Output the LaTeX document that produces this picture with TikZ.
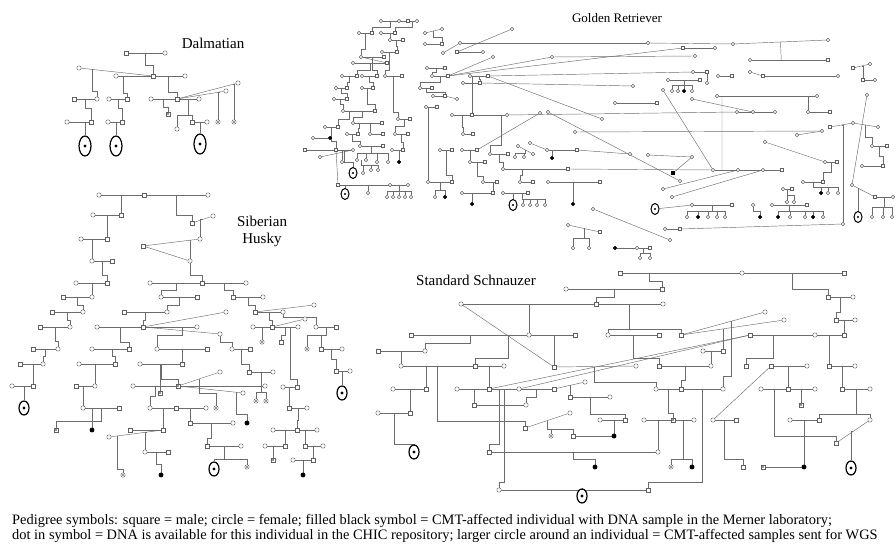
\documentclass[tikz,border=0pt]{standalone}
\usepackage{fontspec}
\setmainfont{Liberation Serif}
\usetikzlibrary{calc,shapes.geometric,backgrounds}
\tikzset{
  ln/.style={draw=gray!85!black, line width=.45pt},
  ml/.style={rectangle, draw=gray!75!black, fill=white, minimum size=4.2pt, inner sep=0pt, line width=.4pt},
  fl/.style={circle, draw=gray!75!black, fill=white, minimum size=4.4pt, inner sep=0pt, line width=.4pt},
  gm/.style={ml, minimum size=3.3pt},
  gf/.style={fl, minimum size=3.5pt},
  aff/.style={fill=black, draw=black},
  dotmark/.style={circle, fill=gray!35!black, inner sep=0pt, minimum size=1.7pt},
  dna/.style={label={[dotmark]center:{}}},
  wgs/.style={ellipse, draw=black, fill=white, line width=1.2pt, minimum width=10pt, minimum height=14pt, inner sep=0pt,
    label={[circle, fill=black, inner sep=0pt, minimum size=3.2pt]center:{}}},
  bigwgs/.style={wgs, minimum width=12pt, minimum height=20pt},
  gwgs/.style={ellipse, draw=black, fill=white, line width=1pt, minimum width=8pt, minimum height=11pt, inner sep=0pt,
    label={[circle, fill=black, inner sep=0pt, minimum size=2.4pt]center:{}}},
  ttl/.style={font=\fontsize{15}{17}\selectfont, align=center, inner sep=0pt},
  legtxt/.style={font=\fontsize{14.4}{15}\selectfont, inner sep=0pt},
}
\begin{document}
\begin{tikzpicture}[x=1pt,y=-1pt]
\useasboundingbox (0,0) rectangle (896,545);

% Dalmatian
\node[ttl] (dt) at (213,43) {Dalmatian};
\node[ml] (d1) at (126,53) {}; \node[fl] (d2) at (165,53) {};
\node[fl] (d3) at (79,68) {}; \node[fl] (d4) at (116,76) {};
\node[ml] (d5) at (153,76) {}; \node[fl] (d6) at (185,76) {};
\node[ml] (d7) at (74,99) {}; \node[fl] (d8) at (97,99) {};
\node[fl] (d9) at (109,99) {}; \node[ml] (d10) at (127,99) {};
\node[fl] (d11) at (151,99) {}; \node[ml] (d12) at (177,99) {};
\node[fl] (d13) at (199,99) {}; \node[fl] (d14) at (226,91) {};
\node[fl] (d15) at (238,83) {};
\node[ml,dna] (d16) at (168,114) {};
\node[fl] (d17) at (177,129) {}; \node[ml] (d18) at (192,122) {};
\node[fl] (d19) at (207,122) {}; \node[fl,dna] (d20) at (218,122) {};
\node[fl,dna] (d21) at (234,122) {};
\node[fl] (d22) at (67,122) {}; \node[ml] (d23) at (91,122) {};
\node[fl] (d24) at (108,122) {}; \node[ml] (d25) at (122,122) {};
\node[bigwgs] (d26) at (85,146) {};
\node[bigwgs] (d27) at (116,146) {};
\node[bigwgs] (d28) at (200,144) {};
\begin{pgfonlayer}{background}
\draw[ln] (d1) -- (d2);
\draw[ln] (d3) -- (d5); \draw[ln] (d4) -- (d6);
\draw[ln] ($(d1)!.5!(d2)$) -- ++(0,12) -| (d5);
\draw[ln] (d7) -- (d8); \draw[ln] ($(d3)!.18!(d5)$) -- ++(0,22) -| (d8);
\draw[ln] (d9) -- (d10); \draw[ln] ($(d4)!.19!(d5)$) -- ++(0,17) -| (d10);
\draw[ln] (d11) -- (d13); \draw[ln] (d12) -- (d14); \draw[ln] (d12) -- (d15);
\draw[ln] ($(d5)!.47!(d6)$) -- ++(0,16) -| (d12);
\draw[ln] ($(d11)!.46!(d12)$) -- ++(0,8) -| (d16);
\draw[ln] (d18) -- (d19);
\draw[ln] ($(d12)!.5!(d13)$) -- ++(0,16) -| (d17);
\draw[ln] ($(d12)!.5!(d13)$) -- ++(0,16) -| (d18);
\draw[ln] ($(d12)!.88!(d14)$) -| (d20);
\draw[ln] ($(d12)!.92!(d15)$) -| (d21);
\draw[ln] (d22) -- (d23); \draw[ln] ($(d7)!.5!(d8)$) -- ++(0,9) -| (d23);
\draw[ln] (d24) -- (d25); \draw[ln] ($(d9)!.5!(d10)$) -- ++(0,9) -| (d25);
\draw[ln] ($(d22)!.5!(d23)$) -| (d26);
\draw[ln] ($(d24)!.5!(d25)$) -| (d27);
\draw[ln] ($(d18)!.5!(d19)$) -| (d28);
\end{pgfonlayer}

% Siberian Husky
\node[ttl] (ht) at (262,231) {Siberian\\Husky};
\node[fl] (h1) at (99,195) {}; \node[ml] (h2) at (144,195) {}; \node[fl] (h3) at (208,195) {};
\node[fl] (h4) at (93,215) {}; \node[ml] (h5) at (121,215) {};
\node[ml] (h6) at (192,223) {}; \node[fl] (h7) at (213,216) {};
\node[fl] (h8) at (81,239) {}; \node[ml] (h9) at (107,239) {};
\node[ml] (h10) at (143,246) {}; \node[fl] (h11) at (200,239) {}; \node[fl] (h12) at (190,261) {};
\node[fl] (h13) at (92,261) {}; \node[ml] (h14) at (112,261) {};
\node[fl] (h15) at (76,283) {}; \node[ml] (h16) at (107,283) {};
\node[fl] (h17) at (150,283) {}; \node[ml] (h18) at (202,283) {}; \node[fl] (h19) at (246,283) {};
\node[fl] (h20) at (161,297) {}; \node[ml] (h21) at (197,297) {};
\node[ml] (h22) at (233,297) {}; \node[fl] (h23) at (263,297) {};
\node[ml] (h24) at (63,297) {}; \node[fl] (h25) at (92,297) {};
\node[ml] (h26) at (52,312) {}; \node[fl] (h27) at (83,312) {};
\node[ml] (h28) at (124,312) {}; \node[fl] (h29) at (167,312) {};
\node[ml] (h30) at (255,312) {}; \node[fl] (h31) at (283,312) {}; \node[fl] (h32) at (314,305) {};
\node[ml] (h33) at (40,327) {}; \node[fl] (h34) at (70,327) {};
\node[fl] (h35) at (97,327) {}; \node[ml] (h36) at (143,327) {}; \node[fl] (h37) at (197,327) {};
\node[fl] (h38) at (226,312) {}; \node[fl] (h39) at (220,334) {};
\node[fl] (h40) at (253,327) {}; \node[ml] (h41) at (272,327) {}; \node[fl] (h42) at (298,327) {};
\node[fl] (h43) at (305,319) {};
\node[fl] (h44) at (316,327) {}; \node[ml] (h45) at (336,327) {};
\node[fl,dna] (h46) at (307,349) {}; \node[ml] (h47) at (321,349) {}; \node[fl] (h48) at (342,349) {};
\node[ml] (h49) at (336,371) {}; \node[fl] (h50) at (350,371) {};
\node[wgs] (h51) at (342,393) {};
\node[fl,dna] (h52) at (262,342) {}; \node[ml] (h53) at (281,342) {};
\node[fl] (h54) at (283,387) {}; \node[ml] (h55) at (297,387) {};
\node[ml] (h56) at (289,408) {}; \node[fl] (h57) at (307,408) {};
\node[fl] (h58) at (273,430) {}; \node[ml] (h59) at (297,430) {}; \node[fl] (h60) at (317,430) {};
\node[fl] (h61) at (265,446) {}; \node[ml] (h62) at (285,446) {};
\node[ml] (h63) at (305,446) {}; \node[fl] (h64) at (323,446) {};
\node[ml,dna] (h65) at (273,460) {}; \node[fl] (h66) at (293,460) {}; \node[ml] (h67) at (313,460) {};
\node[fl,aff] (h68) at (303,475) {};
\node[fl] (h69) at (133,386) {}; \node[ml,dna] (h70) at (178,386) {}; \node[fl] (h71) at (265,386) {};
\node[fl] (h72) at (220,372) {}; \node[fl] (h73) at (243,393) {};
\node[fl] (h74) at (140,364) {}; \node[ml] (h75) at (182,364) {};
\node[ml,dna] (h76) at (160,393) {};
\node[fl] (h77) at (157,349) {}; \node[ml] (h78) at (207,349) {};
\node[fl] (h79) at (232,349) {}; \node[ml] (h80) at (250,349) {};
\node[ml] (h81) at (249,372) {}; \node[fl] (h82) at (273,372) {};
\node[fl,dna] (h83) at (256,401) {}; \node[fl,dna] (h84) at (266,401) {};
\node[fl,aff] (h85) at (247,423) {};
\node[fl] (h86) at (150,408) {}; \node[ml] (h87) at (176,408) {};
\node[fl] (h88) at (206,408) {}; \node[fl,dna] (h89) at (216,408) {};
\node[ml] (h90) at (190,423) {}; \node[fl] (h91) at (233,423) {};
\node[fl] (h92) at (109,437) {}; \node[ml] (h93) at (130,430) {}; \node[ml] (h94) at (163,430) {};
\node[fl] (h95) at (145,452) {}; \node[ml] (h96) at (168,452) {};
\node[ml] (h97) at (207,446) {}; \node[fl] (h98) at (241,446) {};
\node[wgs] (h99) at (214,469) {}; \node[fl,dna] (h100) at (247,467) {};
\node[fl,dna] (h101) at (123,475) {}; \node[fl,aff] (h102) at (161,475) {};
\node[ml] (h103) at (33,349) {}; \node[fl] (h104) at (58,349) {};
\node[ml] (h105) at (20,364) {}; \node[fl] (h106) at (43,364) {};
\node[fl] (h107) at (12,386) {}; \node[ml] (h108) at (33,386) {};
\node[wgs] (h109) at (24,408) {};
\node[fl] (h110) at (79,364) {}; \node[ml] (h111) at (115,364) {};
\node[fl] (h112) at (92,349) {}; \node[ml] (h113) at (129,349) {};
\node[ml] (h114) at (76,386) {}; \node[fl] (h115) at (95,386) {};
\node[fl] (h116) at (83,408) {}; \node[ml] (h117) at (119,408) {};
\node[ml,dna] (h118) at (56,430) {}; \node[fl,aff] (h119) at (92,430) {};
\begin{pgfonlayer}{background}
\draw[ln] (h1) -- (h3); \draw[ln] ($(h1)!.5!(h2)$) -| (h5); \draw[ln] (h4) -- (h5);
\draw[ln] ($(h2)!.5!(h3)$) -- ++(0,20) -| (h6); \draw[ln] (h6) -- (h7);
\draw[ln] (h8) -- (h9); \draw[ln] ($(h4)!.5!(h5)$) -| (h9);
\draw[ln] (h10) -- (h11); \draw[ln] (h10) -- (h12);
\draw[ln] ($(h6)!.5!(h7)$) -| (h11); \draw[ln] ($(h10)!.83!(h11)$) -| (h12);
\draw[ln] (h13) -- (h14); \draw[ln] ($(h8)!.5!(h9)$) -| (h13);
\draw[ln] (h15) -- (h16); \draw[ln] ($(h13)!.5!(h14)$) -- ++(0,14) -| (h16);
\draw[ln] (h17) -- (h19); \draw[ln] (h12) -- ++(0,14) -| (h18);
\draw[ln] (h20) -- (h21); \draw[ln] ($(h17)!.5!(h18)$) -- ++(0,7) -| (h20);
\draw[ln] (h22) -- (h23); \draw[ln] ($(h18)!.5!(h19)$) -- ++(0,7) -| (h22);
\draw[ln] (h24) -- (h25); \draw[ln] ($(h15)!.5!(h16)$) -| (h25);
\draw[ln] (h26) -- (h27); \draw[ln] ($(h24)!.5!(h25)$) -- ++(0,8) -| (h27);
\draw[ln] (h28) -- (h29); \draw[ln] ($(h20)!.5!(h21)$) -- ++(0,8) -| (h29);
\draw[ln] (h30) -- (h31); \draw[ln] (h30) -- (h32); \draw[ln] ($(h22)!.5!(h23)$) -- ++(0,8) -| (h30);
\draw[ln] (h33) -- (h34); \draw[ln] ($(h26)!.5!(h27)$) -- ++(0,8) -| (h34);
\draw[ln] (h35) -- (h37); \draw[ln] (h36) -- (h38); \draw[ln] (h36) -- (h39);
\draw[ln] ($(h28)!.5!(h29)$) -- ++(0,8) -| (h36);
\draw[ln] (h40) -- (h42); \draw[ln] (h41) -- (h43);
\draw[ln] ($(h30)!.5!(h31)$) -- ++(0,8) -| (h41);
\draw[ln] (h44) -- (h45); \draw[ln] (h31) -- ++(0,5) -| (h44);
\draw[ln] (h47) -- (h48);
\draw[ln] ($(h44)!.5!(h45)$) -- ++(0,8) -| (h46); \draw[ln] ($(h44)!.5!(h45)$) -- ++(0,8) -| (h47);
\draw[ln] (h49) -- (h50); \draw[ln] ($(h47)!.5!(h48)$) -- ++(0,10) -| (h49);
\draw[ln] ($(h49)!.5!(h50)$) -| (h51);
\draw[ln] ($(h40)!.5!(h41)$) -| (h52);
\draw[ln] ($(h41)!.5!(h42)$) -- ++(0,8) -| (h53);
\draw[ln] (h54) -- (h55); \draw[ln] ($(h41)!.7!(h42)$) -- ++(0,52) -| (h55);
\draw[ln] (h56) -- (h57); \draw[ln] ($(h54)!.5!(h55)$) -| (h56);
\draw[ln] (h58) -- (h60); \draw[ln] ($(h56)!.5!(h57)$) -- ++(0,12) -| (h59);
\draw[ln] (h61) -- (h62); \draw[ln] ($(h58)!.5!(h59)$) -| (h62);
\draw[ln] (h63) -- (h64); \draw[ln] ($(h59)!.5!(h60)$) -| (h63);
\draw[ln] ($(h61)!.5!(h62)$) -| (h65);
\draw[ln] (h66) -- (h67); \draw[ln] ($(h63)!.5!(h64)$) -| (h67);
\draw[ln] ($(h66)!.5!(h67)$) -| (h68);
\draw[ln] (h69) -- (h71); \draw[ln] (h70) -- (h72); \draw[ln] (h70) -- (h73);
\draw[ln] (h74) -- (h75); \draw[ln] ($(h74)!.5!(h75)$) -| (h76);
\draw[ln] ($(h74)!.5!(h75)$) -- ++(0,15) -| (h70);
\draw[ln] (h77) -- (h78); \draw[ln] ($(h35)!.85!(h37)$) -- ++(0,8) -| (h77);
\draw[ln] ($(h77)!.5!(h78)$) -| (h75);
\draw[ln] (h79) -- (h80); \draw[ln] (h39) -- ++(0,8) -| (h79);
\draw[ln] (h81) -- (h82); \draw[ln] ($(h79)!.5!(h80)$) -- ++(0,15) -| (h81);
\draw[ln] ($(h81)!.5!(h82)$) -- ++(0,20) -| (h83); \draw[ln] ($(h81)!.5!(h82)$) -- ++(0,20) -| (h84);
\draw[ln] ($(h70)!.9!(h73)$) -- ++(0,22) -| (h85);
\draw[ln] (h86) -- (h88); \draw[ln] ($(h69)!.5!(h70)$) -- ++(0,10) -| (h86);
\draw[ln] ($(h70)!.5!(h72)$) -- ++(0,14) -| (h89);
\draw[ln] (h90) -- (h91); \draw[ln] ($(h87)!.5!(h88)$) -| (h90);
\draw[ln] (h93) -- (h94); \draw[ln] (h92) -- (h94); \draw[ln] ($(h86)!.5!(h87)$) -| (h94);
\draw[ln] (h95) -- (h96); \draw[ln] ($(h92)!.7!(h94)$) -| (h95);
\draw[ln] (h97) -- (h98); \draw[ln] ($(h90)!.5!(h91)$) -- ++(0,15) -| (h97);
\draw[ln] ($(h97)!.5!(h98)$) -- ++(0,13) -| (h99); \draw[ln] ($(h97)!.5!(h98)$) -- ++(0,13) -| (h100);
\draw[ln] ($(h92)!.15!(h94)$) -- ++(0,33) -| (h101);
\draw[ln] ($(h95)!.5!(h96)$) -- ++(0,12) -| (h102);
\draw[ln] (h103) -- (h104); \draw[ln] ($(h33)!.5!(h34)$) -- ++(0,14) -| (h104);
\draw[ln] (h105) -- (h106); \draw[ln] ($(h103)!.5!(h104)$) -- ++(0,7) -| (h106);
\draw[ln] (h107) -- (h108); \draw[ln] ($(h105)!.5!(h106)$) -| (h108);
\draw[ln] ($(h107)!.5!(h108)$) -| (h109);
\draw[ln] (h110) -- (h111); \draw[ln] (h112) -- (h113);
\draw[ln] ($(h35)!.23!(h37)$) -- ++(0,15) -| (h113);
\draw[ln] ($(h112)!.55!(h113)$) -- ++(0,7) -| (h111);
\draw[ln] (h114) -- (h115); \draw[ln] ($(h110)!.5!(h111)$) -| (h115);
\draw[ln] (h116) -- (h117); \draw[ln] ($(h114)!.5!(h115)$) -| (h116);
\draw[ln] ($(h116)!.5!(h117)$) -| (h119);
\draw[ln] ($(h116)!.5!(h117)$) -- ++(0,13) -| (h118);
\end{pgfonlayer}

% Standard Schnauzer
\node[ttl] (st) at (476,280) {Standard Schnauzer};
\node[ml] (s1) at (620,273) {}; \node[fl] (s2) at (742,273) {}; \node[ml] (s3) at (844,273) {};
\node[fl] (s4) at (566,289) {}; \node[ml] (s5) at (662,289) {};
\node[ml] (s6) at (828,297) {}; \node[fl] (s7) at (853,297) {};
\node[fl] (s8) at (461,304) {}; \node[ml] (s9) at (596,304) {}; \node[fl] (s10) at (663,304) {};
\node[ml] (s11) at (836,320) {}; \node[fl] (s12) at (855,320) {};
\node[ml] (s13) at (411,335) {}; \node[fl] (s14) at (529,335) {}; \node[ml] (s15) at (575,335) {};
\node[fl] (s16) at (608,335) {}; \node[ml] (s17) at (659,335) {};
\node[ml] (s18) at (681,335) {}; \node[fl] (s19) at (765,312) {}; \node[fl] (s20) at (784,320) {};
\node[ml] (s21) at (750,335) {}; \node[fl] (s22) at (815,335) {}; \node[ml] (s23) at (844,335) {};
\node[ml] (s24) at (378,351) {}; \node[fl] (s25) at (425,351) {};
\node[ml] (s26) at (554,367) {};
\node[fl] (s27) at (401,366) {}; \node[ml] (s28) at (475,366) {}; \node[fl] (s29) at (504,366) {};
\node[fl] (s30) at (636,366) {};
\node[ml] (s31) at (659,366) {}; \node[fl] (s32) at (711,366) {};
\node[fl] (s33) at (703,351) {}; \node[ml] (s34) at (723,351) {};
\node[ml] (s35) at (746,366) {}; \node[ml] (s36) at (771,366) {}; \node[fl] (s37) at (807,366) {};
\node[ml] (s38) at (829,366) {}; \node[fl] (s39) at (855,366) {};
\node[fl] (s40) at (393,389) {}; \node[ml] (s41) at (426,389) {};
\node[fl] (s42) at (457,389) {}; \node[ml] (s43) at (489,389) {};
\node[fl] (s44) at (519,389) {}; \node[ml] (s45) at (554,389) {};
\node[fl] (s46) at (585,382) {}; \node[ml] (s47) at (570,397) {}; \node[fl] (s48) at (610,397) {};
\node[fl] (s49) at (656,389) {}; \node[ml] (s50) at (681,389) {}; \node[fl] (s51) at (723,389) {};
\node[fl] (s53) at (761,389) {}; \node[ml] (s54) at (788,389) {}; \node[fl] (s55) at (815,389) {};
\node[ml] (s56) at (842,389) {}; \node[fl] (s57) at (870,389) {};
\node[ml,dna] (s58) at (801,405) {};
\node[ml] (s59) at (474,405) {}; \node[fl] (s60) at (526,405) {};
\node[fl] (s61) at (378,413) {}; \node[ml] (s62) at (410,413) {};
\node[ml] (s63) at (525,428) {}; \node[fl] (s64) at (570,413) {};
\node[fl] (s65) at (600,420) {}; \node[ml] (s66) at (625,420) {};
\node[fl] (s67) at (644,420) {}; \node[ml,dna] (s68) at (673,420) {}; \node[fl] (s69) at (694,420) {};
\node[fl] (s70) at (713,420) {}; \node[ml] (s71) at (736,420) {};
\node[fl] (s72) at (790,420) {}; \node[ml] (s73) at (819,420) {};
\node[fl] (s74) at (870,420) {}; \node[ml] (s75) at (836,443) {};
\node[fl,dna] (s76) at (551,436) {}; \node[ml] (s77) at (573,436) {}; \node[fl,aff] (s78) at (614,436) {};
\node[wgs] (s79) at (414,452) {};
\node[ml] (s80) at (489,452) {}; \node[fl] (s81) at (658,452) {};
\node[fl,aff] (s82) at (595,467) {};
\node[fl,dna] (s83) at (671,467) {}; \node[fl,aff] (s84) at (692,467) {};
\node[ml] (s85) at (743,467) {}; \node[ml,dna] (s86) at (763,467) {}; \node[fl,aff] (s87) at (804,467) {};
\node[wgs] (s88) at (851,468) {};
\node[fl] (s89) at (499,490) {}; \node[ml] (s90) at (648,490) {};
\node[wgs] (s91) at (582,496) {};
\begin{pgfonlayer}{background}
\draw[ln] (s1) -- (s3);
\draw[ln] (s4) -- (s5); \draw[ln] ($(s1)!.13!(s3)$) -- ++(0,8) -| (s5);
\draw[ln] (s6) -- (s7); \draw[ln] ($(s1)!.77!(s3)$) -- ++(0,16) -| (s6);
\draw[ln] (s8) -- (s10); \draw[ln] ($(s4)!.5!(s5)$) -- ++(0,8) -| (s9);
\draw[ln] (s11) -- (s12); \draw[ln] ($(s6)!.5!(s7)$) -- ++(0,15) -| (s11);
\draw[ln] (s13) -- (s15); \draw[ln] ($(s8)!.5!(s9)$) -| (s14);
\draw[ln] (s16) -- (s17); \draw[ln] (s18) -- (s19); \draw[ln] (s18) -- (s20);
\draw[ln] ($(s9)!.5!(s10)$) -- ++(0,25) -| (s16); \draw[ln] ($(s9)!.5!(s10)$) -- ++(0,25) -| (s18);
\draw[ln] (s21) -- (s23); \draw[ln] ($(s11)!.5!(s12)$) -| (s23);
\draw[ln] (s24) -- (s25); \draw[ln] ($(s13)!.5!(s14)$) -- ++(0,8) -| (s25);
\draw[ln] (s8) -- (s26);
\draw[ln] (s27) -- (s29); \draw[ln] ($(s24)!.5!(s25)$) -| (s27);
\draw[ln] ($(s13)!.59!(s15)$) -- ++(0,23) -| (s28);
\draw[ln] (s26) -- (s30); \draw[ln] ($(s14)!.5!(s15)$) -| (s26);
\draw[ln] (s31) -- (s32); \draw[ln] ($(s16)!.5!(s17)$) -- ++(0,23) -| (s31);
\draw[ln] (s33) -- (s34); \draw[ln] ($(s18)!.41!(s20)$) -| (s34);
\draw[ln] ($(s33)!.5!(s34)$) -| (s32);
\draw[ln] ($(s21)!.35!(s22)$) -- ++(0,23) -| (s35);
\draw[ln] (s36) -- (s37);
\draw[ln] (s38) -- (s39); \draw[ln] ($(s22)!.5!(s23)$) -| (s38);
\draw[ln] (s40) -- (s41); \draw[ln] ($(s27)!.34!(s28)$) -| (s41);
\draw[ln] (s42) -- (s45); \draw[ln] ($(s28)!.5!(s29)$) -| (s43);
\draw[ln] (s45) -- (s46); \draw[ln] ($(s45)!.5!(s46)$) -| (s47);
\draw[ln] (s43) -- (s21); \draw[ln] (s44) -- (s21);
\draw[ln] (s47) -- (s48);
\draw[ln] (s49) -- (s51); \draw[ln] ($(s26)!.49!(s30)$) -- ++(0,16) -| (s49);
\draw[ln] ($(s31)!.5!(s32)$) -- ++(0,14) -| (s50);
\draw[ln] ($(s18)!.6!(s19)$) -- ++(0,55) -| (s51);
\draw[ln] (s53) -- (s55); \draw[ln] ($(s36)!.5!(s37)$) -| (s54);
\draw[ln] (s56) -- (s57); \draw[ln] ($(s38)!.5!(s39)$) -| (s56);
\draw[ln] ($(s54)!.5!(s55)$) -| (s58);
\draw[ln] (s59) -- (s60); \draw[ln] ($(s42)!.5!(s43)$) -| (s59);
\draw[ln] ($(s44)!.5!(s45)$) -- ++(0,8) -| (s60);
\draw[ln] (s61) -- (s62); \draw[ln] ($(s40)!.5!(s41)$) -| (s62);
\draw[ln] (s63) -- (s64); \draw[ln] ($(s27)!.49!(s28)$) -- ++(0,55) -| (s63);
\draw[ln] (s65) -- (s66); \draw[ln] ($(s47)!.5!(s48)$) -- ++(0,17) -| (s66);
\draw[ln] (s67) -- (s69); \draw[ln] ($(s49)!.5!(s50)$) -- ++(0,24) -| (s68);
\draw[ln] (s70) -- (s71); \draw[ln] (s70) -- (s36);
\draw[ln] (s72) -- (s73); \draw[ln] (s74) -- (s75);
\draw[ln] ($(s56)!.5!(s57)$) -- ++(0,25) -| (s73); \draw[ln] ($(s56)!.5!(s57)$) -- ++(0,25) -| (s74);
\draw[ln] (s77) -- (s78);
\draw[ln] ($(s63)!.5!(s64)$) -- ++(0,9) -| (s76); \draw[ln] ($(s63)!.5!(s64)$) -- ++(0,9) -| (s77);
\draw[ln] ($(s65)!.5!(s66)$) -| (s78);
\draw[ln] ($(s61)!.5!(s62)$) -- ++(0,31) -| (s79);
\draw[ln] (s80) -- (s81); \draw[ln] ($(s43)!.35!(s44)$) -- ++(0,55) -| (s80);
\draw[ln] ($(s67)!.5!(s68)$) -| (s81);
\draw[ln] ($(s80)!.5!(s81)$) -- ++(0,7) -| (s82);
\draw[ln] ($(s68)!.5!(s69)$) -- ++(0,39) -| (s83); \draw[ln] ($(s68)!.5!(s69)$) -- ++(0,39) -| (s84);
\draw[ln] (s86) -- (s87); \draw[ln] ($(s70)!.5!(s71)$) -- ++(0,39) -| (s85);
\draw[ln] ($(s53)!.5!(s54)$) -- ++(0,47) -| (s75);
\draw[ln] ($(s72)!.5!(s73)$) -| (s87);
\draw[ln] ($(s74)!.5!(s75)$) -| (s88);
\draw[ln] (s89) -- (s90); \draw[ln] ($(s43)!.5!(s44)$) -- ++(0,93) -| (s89);
\draw[ln] ($(s50)!.5!(s51)$) -- ++(0,93) -| (s90);
\draw[ln] ($(s89)!.56!(s90)$) -| (s91);
\end{pgfonlayer}

% Golden Retriever
\node[ttl,font=\fontsize{13}{15}\selectfont] (gt) at (617,18) {Golden Retriever};
\node[gf] (g1) at (381,21) {}; \node[gf] (g2) at (399,21) {}; \node[gm] (g3) at (408,21) {}; \node[gf] (g4) at (417,21) {};
\node[gf] (g5) at (359,33) {}; \node[gm] (g6) at (372,33) {};
\node[gf] (g7) at (381,33) {}; \node[gm] (g8) at (395,33) {};
\node[gf] (g9) at (425,33) {}; \node[gf] (g10) at (442,29) {};
\node[gf] (g11) at (390,40) {}; \node[gm] (g12) at (403,40) {};
\node[gf] (g13) at (382,52) {}; \node[gm] (g14) at (397,52) {};
\node[gf] (g15) at (425,44) {}; \node[gm] (g16) at (442,44) {};
\node[gf] (g17) at (443,53) {}; \node[gf] (g18) at (460,43) {};
\node[gm] (g19) at (457,52) {}; \node[gf] (g20) at (483,52) {}; \node[gf] (g21) at (512,29) {};
\node[gf] (g22) at (361,57) {}; \node[gm] (g23) at (384,57) {};
\node[gf] (g24) at (353,63) {}; \node[gm] (g25) at (387,63) {};
\node[gf] (g26) at (342,76) {}; \node[gm] (g27) at (357,76) {};
\node[gf] (g28) at (362,76) {}; \node[gm] (g29) at (377,76) {};
\node[gf] (g30) at (385,76) {}; \node[gm] (g31) at (402,76) {};
\node[gf] (g32) at (336,88) {}; \node[gm] (g33) at (347,88) {};
\node[gf] (g34) at (362,88) {}; \node[gm] (g35) at (373,88) {};
\node[gf] (g36) at (334,99) {}; \node[gm] (g37) at (347,99) {};
\node[gf] (g38) at (343,111) {}; \node[gm] (g39) at (375,111) {};
\node[gf] (g40) at (398,119) {}; \node[gm] (g41) at (410,119) {};
\node[gf] (g42) at (325,127) {}; \node[gm] (g43) at (338,127) {};
\node[gf] (g44) at (353,123) {}; \node[gm] (g45) at (382,123) {};
\node[gf] (g46) at (347,134) {}; \node[gm] (g47) at (358,134) {};
\node[gf] (g48) at (370,134) {}; \node[gm] (g49) at (383,134) {};
\node[gf] (g50) at (395,134) {}; \node[gm] (g51) at (408,134) {};
\node[gf] (g52) at (313,138) {}; \node[gf,aff] (g53) at (330,138) {};
\node[gm] (g54) at (305,150) {}; \node[gm] (g57) at (336,150) {}; \node[gf] (g55) at (353,150) {};
\node[gf] (g56) at (320,157) {};
\node[gf] (g58) at (360,146) {}; \node[gm] (g59) at (383,146) {};
\node[gf] (g60) at (392,150) {}; \node[gm] (g61) at (403,150) {};
\node[gf] (g62) at (342,162) {}; \node[gf] (g63) at (357,160) {}; \node[gf] (g64) at (366,160) {};
\node[gf] (g65) at (377,162) {}; \node[gf] (g66) at (388,162) {}; \node[gf,aff] (g67) at (399,162) {};
\node[gwgs] (g68) at (353,173) {};
\node[gf] (g69) at (363,173) {}; \node[gf] (g70) at (371,170) {}; \node[gf] (g71) at (378,170) {};
\node[gm] (g72) at (338,185) {}; \node[gf] (g73) at (390,185) {}; \node[gf] (g74) at (408,185) {};
\node[gwgs] (g75) at (345,194) {};
\node[gf] (g76) at (368,193) {};
\node[gf] (g77) at (387,197) {}; \node[gf] (g78) at (393,197) {}; \node[gf] (g79) at (399,197) {};
\node[gf] (g80) at (405,197) {}; \node[gf] (g81) at (411,197) {};
\node[gf] (g82) at (427,68) {}; \node[gm] (g83) at (445,68) {};
\node[gf] (g84) at (432,76) {}; \node[gm] (g85) at (448,76) {};
\node[gf] (g86) at (493,57) {}; \node[gf] (g87) at (552,57) {};
\node[gf] (g88) at (470,76) {}; \node[gm] (g89) at (488,76) {};
\node[gf] (g90) at (463,83) {}; \node[gm] (g91) at (480,83) {};
\node[gf] (g92) at (420,88) {}; \node[gm] (g93) at (432,88) {};
\node[gf] (g94) at (433,96) {}; \node[gm] (g95) at (445,96) {}; \node[gf] (g96) at (457,99) {};
\node[gf] (g97) at (426,107) {}; \node[gm] (g98) at (437,107) {};
\node[gf] (g99) at (452,115) {}; \node[gm] (g100) at (472,115) {}; \node[gf] (g101) at (507,115) {};
\node[gf] (g102) at (463,134) {}; \node[gm] (g103) at (473,134) {};
\node[gf] (g104) at (440,150) {}; \node[gm] (g105) at (452,150) {};
\node[gf] (g106) at (462,150) {}; \node[gm] (g107) at (477,150) {}; \node[gf] (g108) at (540,113) {};
\node[gf] (g109) at (470,162) {}; \node[gm] (g110) at (485,162) {};
\node[gf] (g111) at (490,154) {}; \node[gm] (g112) at (508,154) {};
\node[gf] (g113) at (428,182) {}; \node[gm] (g114) at (452,182) {};
\node[gf] (g115) at (435,197) {}; \node[gf,aff] (g116) at (445,197) {};
\node[gf] (g117) at (462,193) {}; \node[gm] (g118) at (493,193) {}; \node[gf,aff] (g119) at (472,204) {};
\node[gf] (g120) at (483,182) {}; \node[gm] (g121) at (497,182) {};
\node[gf] (g122) at (503,193) {}; \node[gm] (g123) at (528,193) {};
\node[gwgs] (g124) at (513,205) {};
\node[gf] (g125) at (523,205) {}; \node[gf] (g126) at (530,205) {}; \node[gf] (g127) at (537,205) {}; \node[gf] (g128) at (545,205) {};
\node[gf,aff] (g129) at (573,204) {};
\node[gf] (g130) at (503,169) {}; \node[gm] (g131) at (568,169) {};
\node[gf] (g132) at (520,182) {}; \node[gm] (g133) at (533,182) {};
\node[gf] (g134) at (548,182) {}; \node[gm] (g135) at (600,182) {};
\node[gf] (g136) at (518,146) {}; \node[gf] (g137) at (533,154) {};
\node[gf] (g138) at (530,143) {}; \node[gf] (g139) at (547,150) {}; \node[gm] (g141) at (577,150) {};
\node[gf,aff] (g142) at (552,158) {};
\node[gf] (g143) at (515,157) {}; \node[gf] (g144) at (524,157) {};
\node[gf] (g145) at (568,225) {}; \node[gm] (g146) at (600,232) {};
\node[gf] (g147) at (573,248) {}; \node[gf] (g148) at (589,248) {};
\node[gf] (g150) at (648,43) {}; \node[gf] (g151) at (733,44) {}; \node[gf] (g152) at (828,40) {};
\node[gm] (g153) at (683,48) {}; \node[gf] (g154) at (715,48) {};
\node[gf] (g155) at (750,60) {}; \node[gm] (g156) at (828,60) {};
\node[gm] (g157) at (853,68) {}; \node[gf] (g158) at (870,64) {};
\node[gm] (g159) at (863,80) {}; \node[gf] (g160) at (875,80) {};
\node[gf] (g161) at (695,56) {};
\node[gf] (g164) at (668,80) {}; \node[gm] (g165) at (700,80) {};
\node[gf] (g166) at (672,91) {}; \node[gf] (g167) at (678,91) {}; \node[gf,aff] (g168) at (684,91) {}; \node[gf] (g169) at (692,91) {};
\node[gf] (g170) at (693,72) {}; \node[gm] (g171) at (707,72) {}; \node[gf] (g172) at (707,83) {};
\node[gf] (g173) at (718,76) {}; \node[gm] (g174) at (732,76) {};
\node[gf] (g175) at (750,72) {}; \node[gm] (g176) at (763,76) {}; \node[gf] (g177) at (838,76) {};
\node[gf] (g178) at (717,96) {}; \node[gf] (g179) at (817,96) {};
\node[gf] (g180) at (692,99) {}; \node[gf] (g181) at (753,112) {};
\node[gf] (g182) at (737,112) {}; \node[gf] (g183) at (775,112) {};
\node[gf] (g184) at (797,135) {}; \node[gf] (g185) at (822,131) {};
\node[gf] (g186) at (808,112) {}; \node[gm] (g187) at (830,112) {};
\node[gm] (g188) at (830,127) {}; \node[gf] (g189) at (853,123) {}; \node[gf] (g190) at (878,127) {};
\node[gf] (g191) at (872,146) {}; \node[gm] (g192) at (887,146) {};
\node[gf] (g193) at (862,166) {}; \node[gm] (g194) at (883,166) {};
\node[gf] (g195) at (852,185) {}; \node[gm] (g196) at (875,197) {}; \node[gf] (g197) at (893,197) {};
\node[gf] (g198) at (867,95) {};
\node[gwgs] (g199) at (858,217) {};
\node[gf] (g200) at (872,217) {}; \node[gf] (g201) at (883,217) {}; \node[gf] (g202) at (892,217) {};
\node[gf] (g203) at (765,142) {}; \node[gf] (g204) at (825,162) {}; \node[gm] (g205) at (837,162) {};
\node[gf] (g206) at (803,182) {}; \node[gm] (g207) at (823,182) {};
\node[gf,aff] (g208) at (821,193) {}; \node[gf] (g209) at (828,193) {}; \node[gf] (g210) at (838,193) {};
\node[gf] (g211) at (783,189) {}; \node[gm] (g212) at (792,189) {};
\node[gf] (g213) at (787,202) {}; \node[gf] (g214) at (794,202) {};
\node[gf] (g215) at (772,205) {}; \node[gm] (g216) at (807,205) {};
\node[gf,aff] (g217) at (778,217) {}; \node[gf] (g218) at (790,217) {}; \node[gf] (g219) at (805,217) {};
\node[gf,aff] (g220) at (813,217) {}; \node[gf] (g221) at (823,217) {};
\node[gf] (g222) at (753,205) {}; \node[gf,aff] (g223) at (760,217) {};
\node[gf] (g224) at (692,205) {}; \node[gm] (g225) at (732,205) {};
\node[gf] (g226) at (687,217) {}; \node[gf,aff] (g227) at (698,217) {}; \node[gf] (g228) at (708,217) {};
\node[gf] (g229) at (717,217) {}; \node[gf] (g230) at (725,217) {};
\node[gwgs] (g231) at (655,209) {};
\node[gf] (g232) at (692,157) {}; \node[gm,aff] (g233) at (673,173) {};
\node[gf] (g234) at (672,197) {}; \node[gf] (g235) at (763,170) {};
\node[gf] (g236) at (663,189) {}; \node[gf] (g237) at (738,170) {};
\node[gf] (g238) at (713,170) {}; \node[gm] (g239) at (782,170) {};
\node[gf] (g241) at (663,90) {};
\node[gf] (g242) at (593,209) {}; \node[gf] (g243) at (670,240) {};
\node[gf] (g244) at (665,229) {}; \node[gm] (g245) at (680,229) {}; \node[gf] (g246) at (843,224) {};
\node[gf] (g247) at (637,248) {}; \node[gm] (g248) at (650,248) {};
\node[gf] (g249) at (640,258) {}; \node[gf] (g250) at (650,258) {}; \node[gf,aff] (g251) at (615,248) {};
\node[gf] (g252) at (548,112) {}; \node[gf] (g253) at (680,181) {};
\node[gf] (g255) at (602,119) {}; \node[gf] (g256) at (575,132) {};
\node[gf] (g257) at (615,103) {}; \node[gm] (g258) at (657,103) {};
\node[gf] (g259) at (630,154) {}; \node[gf] (g260) at (648,155) {};
\node[gf] (g262) at (633,86) {};
\begin{pgfonlayer}{background}
\draw[ln] (g1) -- (g4); \draw[ln] ($(g1)!.5!(g2)$) -- ++(0,6) -| (g6);
\draw[ln] (g5) -- (g6); \draw[ln] (g7) -- (g8); \draw[ln] ($(g3)!.5!(g4)$) -- ++(0,6) -| (g8);
\draw[ln] (g9) -- (g10); \draw[ln] (g11) -- (g12); \draw[ln] ($(g7)!.5!(g8)$) -| (g11);
\draw[ln] (g13) -- (g14); \draw[ln] ($(g11)!.5!(g12)$) -- ++(0,6) -| (g14);
\draw[ln] (g15) -- (g16); \draw[ln] ($(g9)!.5!(g10)$) -- ++(0,6) -| (g16);
\draw[ln] (g17) -- (g18); \draw[ln] (g19) -- (g20); \draw[ln] (g19) -- (g21);
\draw[ln] (g22) -- (g23); \draw[ln] ($(g5)!.5!(g6)$) -- ++(0,16) -| (g22);
\draw[ln] (g24) -- (g25); \draw[ln] (g22) -- (g25);
\draw[ln] (g26) -- (g27); \draw[ln] ($(g24)!.5!(g25)$) -- ++(0,7) -| (g27);
\draw[ln] (g28) -- (g29); \draw[ln] ($(g22)!.5!(g23)$) -- ++(0,13) -| (g29);
\draw[ln] (g30) -- (g31); \draw[ln] ($(g13)!.5!(g14)$) -- ++(0,18) -| (g30);
\draw[ln] (g32) -- (g33); \draw[ln] ($(g26)!.5!(g27)$) -- ++(0,6) -| (g33);
\draw[ln] (g34) -- (g35); \draw[ln] ($(g28)!.5!(g29)$) -- ++(0,6) -| (g35);
\draw[ln] (g36) -- (g37); \draw[ln] ($(g32)!.5!(g33)$) -- ++(0,5) -| (g37);
\draw[ln] (g38) -- (g39); \draw[ln] ($(g36)!.5!(g37)$) -- ++(0,5) -| (g38);
\draw[ln] ($(g34)!.5!(g35)$) -- ++(0,16) -| (g39);
\draw[ln] (g40) -- (g41); \draw[ln] ($(g30)!.5!(g31)$) -- ++(0,36) -| (g40);
\draw[ln] (g42) -- (g43); \draw[ln] ($(g38)!.2!(g39)$) -- ++(0,8) -| (g43);
\draw[ln] (g44) -- (g45); \draw[ln] ($(g38)!.6!(g39)$) -- ++(0,6) -| (g44);
\draw[ln] (g46) -- (g47); \draw[ln] ($(g44)!.2!(g45)$) -- ++(0,5) -| (g47);
\draw[ln] (g48) -- (g49); \draw[ln] ($(g44)!.6!(g45)$) -- ++(0,5) -| (g48);
\draw[ln] (g50) -- (g51); \draw[ln] ($(g40)!.5!(g41)$) -- ++(0,7) -| (g50);
\draw[ln] (g52) -- (g53); \draw[ln] (g54) -- (g55); \draw[ln] (g56) -- (g55);
\draw[ln] ($(g42)!.5!(g43)$) -- ++(0,14) -| (g57);
\draw[ln] (g58) -- (g59); \draw[ln] ($(g46)!.5!(g47)$) -- ++(0,7) -| (g58);
\draw[ln] (g60) -- (g61); \draw[ln] ($(g50)!.5!(g51)$) -- ++(0,8) -| (g61);
\draw[ln] ($(g57)!.35!(g55)$) -| (g62);
\foreach \c in {g63,g64,g65,g66} \draw[ln] ($(g58)!.5!(g59)$) -- ++(0,7) -| (\c);
\draw[ln] ($(g60)!.5!(g61)$) -| (g67);
\draw[ln] ($(g57)!.5!(g55)$) -- ++(0,12) -| (g68);
\foreach \c in {g69,g70,g71} \draw[ln] ($(g63)!.5!(g64)$) -- ++(0,5) -| (\c);
\draw[ln] (g72) -- (g74); \draw[ln] (g57) -- (g72);
\draw[ln] ($(g72)!.13!(g73)$) -| (g75); \draw[ln] ($(g72)!.58!(g73)$) -| (g76);
\foreach \c in {g77,g78,g79,g80,g81} \draw[ln] ($(g73)!.5!(g74)$) -- ++(0,6) -| (\c);
\draw[ln] (g82) -- (g83); \draw[ln] (g84) -- (g85); \draw[ln] (g85) -- (g86); \draw[ln] (g85) -- (g87);
\draw[ln] (g88) -- (g89); \draw[ln] (g90) -- (g91); \draw[ln] (g92) -- (g93);
\draw[ln] (g94) -- (g95); \draw[ln] (g95) -- (g96); \draw[ln] (g97) -- (g98);
\draw[ln] (g99) -- (g101); \draw[ln] (g102) -- (g103); \draw[ln] (g104) -- (g105);
\draw[ln] (g106) -- (g107); \draw[ln] (g107) -- (g108); \draw[ln] (g109) -- (g110);
\draw[ln] (g111) -- (g112); \draw[ln] (g113) -- (g114); \draw[ln] (g117) -- (g118);
\draw[ln] (g120) -- (g121); \draw[ln] (g122) -- (g123); \draw[ln] (g130) -- (g131);
\draw[ln] (g132) -- (g133); \draw[ln] (g134) -- (g135); \draw[ln] (g136) -- (g137);
\draw[ln] (g138) -- (g139); \draw[ln] (g139) -- (g141); \draw[ln] (g145) -- (g146);
\draw[ln] ($(g82)!.5!(g83)$) -- ++(0,4) -| (g84);
\draw[ln] ($(g88)!.5!(g89)$) -- ++(0,3) -| (g91);
\draw[ln] ($(g84)!.5!(g85)$) -- ++(0,6) -| (g92);
\draw[ln] ($(g92)!.5!(g93)$) -- ++(0,4) -| (g95);
\draw[ln] ($(g88)!.11!(g89)$) -| (g100);
\draw[ln] ($(g97)!.5!(g98)$) -| (g113);
\draw[ln] ($(g99)!.5!(g100)$) -- ++(0,12) -| (g102);
\draw[ln] ($(g104)!.5!(g105)$) -- ++(0,25) -| (g114);
\draw[ln] ($(g106)!.5!(g107)$) -| (g109);
\draw[ln] ($(g99)!.9!(g101)$) -- ++(0,30) -| (g111);
\draw[ln] ($(g113)!.5!(g114)$) -- ++(0,8) -| (g115); \draw[ln] ($(g113)!.5!(g114)$) -- ++(0,8) -| (g116);
\draw[ln] ($(g117)!.32!(g118)$) -| (g119);
\draw[ln] ($(g109)!.5!(g110)$) -- ++(0,14) -| (g120);
\draw[ln] ($(g120)!.5!(g121)$) -| (g118);
\draw[ln] ($(g111)!.5!(g112)$) -- ++(0,8) -| (g130);
\draw[ln] ($(g130)!.3!(g131)$) -- ++(0,6) -| (g132);
\draw[ln] ($(g122)!.4!(g123)$) -| (g124);
\foreach \c in {g125,g126,g127,g128} \draw[ln] ($(g122)!.78!(g123)$) -- ++(0,6) -| (\c);
\draw[ln] ($(g134)!.48!(g135)$) -| (g129);
\draw[ln] ($(g136)!.5!(g137)$) -- ++(0,3) -| (g143); \draw[ln] ($(g136)!.5!(g137)$) -- ++(0,3) -| (g144);
\draw[ln] ($(g139)!.17!(g141)$) -| (g142);
\draw[ln] ($(g145)!.5!(g146)$) -- ++(0,10) -| (g147); \draw[ln] ($(g145)!.5!(g146)$) -- ++(0,10) -| (g148);
\draw[ln] (g18) -- (g150); \draw[ln] (g150) -- (g151); \draw[ln] (g151) -- (g152);
\draw[ln] (g153) -- (g154); \draw[ln] (g85) -- (g153); \draw[ln] (g87) -- (g161);
\draw[ln] (g155) -- (g156); \draw[ln] ($(g151)!.5!(g152)$) -- ($(g155)!.4!(g156)$);
\draw[ln] (g157) -- (g158); \draw[ln] (g159) -- (g160); \draw[ln] ($(g157)!.5!(g158)$) -| (g159);
\draw[ln] (g164) -- (g165);
\foreach \c in {g166,g167,g168,g169} \draw[ln] ($(g164)!.5!(g165)$) -- ++(0,5) -| (\c);
\draw[ln] (g170) -- (g171); \draw[ln] (g171) -- (g172); \draw[ln] (g173) -- (g174);
\draw[ln] (g175) -- (g176); \draw[ln] (g176) -- (g177); \draw[ln] (g178) -- (g179);
\draw[ln] (g180) -- (g181); \draw[ln] (g182) -- (g183); \draw[ln] (g184) -- (g185);
\draw[ln] (g186) -- (g187); \draw[ln] ($(g178)!.9!(g179)$) -| (g186);
\draw[ln] (g188) -- (g189); \draw[ln] (g189) -- (g190);
\draw[ln] ($(g189)!.5!(g190)$) -- ++(0,12) -| (g191);
\draw[ln] (g191) -- (g192); \draw[ln] ($(g191)!.5!(g192)$) -- ++(0,10) -| (g194);
\draw[ln] (g193) -- (g194); \draw[ln] (g195) -- (g196); \draw[ln] (g196) -- (g197); \draw[ln] (g198) -- (g195);
\draw[ln] ($(g195)!.26!(g196)$) -| (g199);
\foreach \c in {g200,g201,g202} \draw[ln] ($(g196)!.5!(g197)$) -- ++(0,10) -| (\c);
\draw[ln] (g203) -- (g204); \draw[ln] (g204) -- (g205); \draw[ln] ($(g204)!.5!(g205)$) -- ++(0,10) -| (g207);
\draw[ln] (g206) -- (g207);
\foreach \c in {g208,g209,g210} \draw[ln] ($(g206)!.5!(g207)$) -- ++(0,5) -| (\c);
\draw[ln] (g211) -- (g212);
\foreach \c in {g213,g214} \draw[ln] ($(g211)!.5!(g212)$) -- ++(0,6) -| (\c);
\draw[ln] (g215) -- (g216);
\foreach \c in {g217,g218,g219,g220,g221} \draw[ln] ($(g215)!.5!(g216)$) -- ++(0,6) -| (\c);
\draw[ln] (g222) -- ++(0,6) -| (g223);
\draw[ln] (g224) -- (g225);
\foreach \c in {g226,g227,g228,g229,g230} \draw[ln] ($(g224)!.5!(g225)$) -- ++(0,6) -| (\c);
\draw[ln] (g232) -- (g233); \draw[ln] (g224) -- (g231);
\draw[ln] (g234) -- (g235); \draw[ln] (g236) -- (g237); \draw[ln] (g238) -- (g239); \draw[ln] (g241) -- (g238);
\draw[ln] ($(g178)!.05!(g179)$) -- ($(g238)!.13!(g239)$);
\draw[ln] (g242) -- (g243); \draw[ln] (g244) -- (g245); \draw[ln] (g245) -- (g246);
\draw[ln] ($(g188)!.5!(g189)$) -| (g246);
\draw[ln] (g247) -- (g248);
\draw[ln] ($(g247)!.5!(g248)$) -- ++(0,5) -| (g249); \draw[ln] ($(g247)!.5!(g248)$) -- ++(0,5) -| (g250);
\draw[ln] (g251) -- (g247);
\draw[ln] (g252) -- (g253); \draw[ln] (g89) -- (g255); \draw[ln] (g256) -- (g185);
\draw[ln] (g131) -- (g238); \draw[ln] (g101) -- (g182); \draw[ln] (g89) -- (g170);
\draw[ln] (g257) -- (g258); \draw[ln] (g141) -- (g259); \draw[ln] (g260) -- (g232);
\draw[ln] (g91) -- (g262);
\end{pgfonlayer}

% legend text
\node[legtxt, anchor=base west] (c1) at (12,524.5) {Pedigree symbols: square = male; circle = female; filled black symbol = CMT-affected individual with DNA sample in the Merner laboratory;};
\node[legtxt, anchor=base west] (c2) at (12,539.5) {dot in symbol = DNA is available for this individual in the CHIC repository; larger circle around an individual = CMT-affected samples sent for WGS};
\end{tikzpicture}
\end{document}
